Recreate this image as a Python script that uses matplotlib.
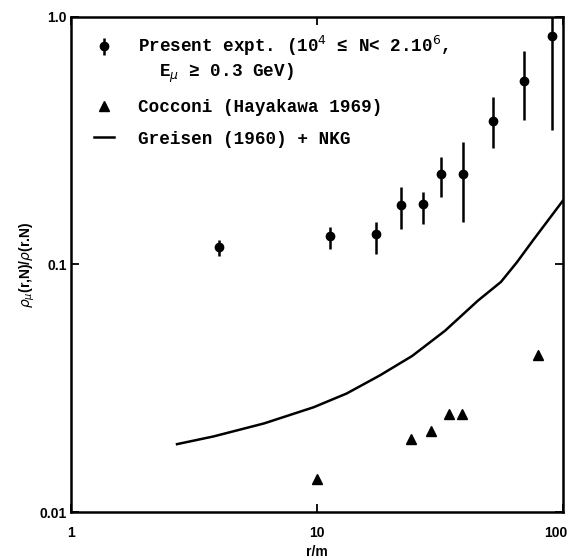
import matplotlib
matplotlib.use("Agg")
import matplotlib.pyplot as plt
from matplotlib.transforms import ScaledTranslation
from matplotlib.legend_handler import HandlerErrorbar
import numpy as np

# ---- data ----
r_expt = [4.0, 11.3, 17.4, 22.0, 27.0, 32.1, 39.4, 51.9, 69.5, 90.2]
ratio_expt = [0.118, 0.130, 0.133, 0.174, 0.175, 0.231, 0.231, 0.381, 0.553, 0.839]
expt_low = [0.108, 0.116, 0.110, 0.139, 0.146, 0.187, 0.149, 0.295, 0.384, 0.348]
expt_high = [0.126, 0.142, 0.149, 0.206, 0.197, 0.271, 0.313, 0.475, 0.731, 1.2]

r_cocconi = [10.0, 24.2, 29.0, 34.6, 38.8, 79.0]
ratio_cocconi = [0.0136, 0.0198, 0.0213, 0.0249, 0.0249, 0.043]

r_greisen = [2.7, 3.8, 6.1, 9.7, 13.2, 18.0, 24.4, 33.2, 45.2, 56, 65, 76, 100]
ratio_greisen = [0.0188, 0.0202, 0.0228, 0.0265, 0.0301, 0.0356, 0.0427, 0.054,
                 0.0715, 0.085, 0.102, 0.126, 0.181]

x_ticks = [1, 10, 100]
x_ticklabels = ["1", "10", "100"]
y_ticks = [0.01, 0.1, 1.0]
y_ticklabels = ["0.01", "0.1", "1.0"]

legend_labels = ["Present expt. (10$^4$ \u2264 N< 2.10$^6$,\n  E$_\\mu$ \u2265 0.3 GeV)",
                 "Cocconi (Hayakawa 1969)",
                 "Greisen (1960) + NKG"]


class HandlerErrorbarFirstLine(HandlerErrorbar):
    """Place the errorbar handle level with the first line of a two-line label."""
    shift = 9.6  # points

    def create_artists(self, legend, orig_handle, xdescent, ydescent, width,
                       height, fontsize, trans):
        return super().create_artists(legend, orig_handle, xdescent,
                                      ydescent - 2 * self.shift, width, height,
                                      fontsize, trans)


# ---- figure ----
fig = plt.figure(figsize=(5.72, 5.60), dpi=100)
ax = fig.add_axes([0.124, 0.0857, 0.860, 0.884])

ratio_expt_a = np.array(ratio_expt)
yerr = [ratio_expt_a - np.array(expt_low), np.array(expt_high) - ratio_expt_a]
eb = ax.errorbar(r_expt, ratio_expt, yerr=yerr, fmt='o', color='black',
                 markersize=6, elinewidth=1.8, capsize=0)
tri, = ax.plot(r_cocconi, ratio_cocconi, '^', color='black', markersize=7,
               linestyle='none')
gl, = ax.plot(r_greisen, ratio_greisen, '-', color='black', linewidth=1.8,
              solid_joinstyle='round')

ax.set_xscale('log')
ax.set_yscale('log')
ax.set_xlim(1, 100)
ax.set_ylim(0.01, 1.0)

ax.xaxis.set_major_locator(matplotlib.ticker.FixedLocator(x_ticks))
ax.yaxis.set_major_locator(matplotlib.ticker.FixedLocator(y_ticks))
ax.xaxis.set_minor_locator(matplotlib.ticker.NullLocator())
ax.yaxis.set_minor_locator(matplotlib.ticker.NullLocator())
ax.set_xticklabels(x_ticklabels, fontfamily='Liberation Sans', fontweight='bold', fontsize=10)
ax.set_yticklabels(y_ticklabels, fontfamily='Liberation Sans', fontweight='bold', fontsize=10)
ax.tick_params(axis='both', which='major', direction='in', length=6, width=1.3,
               top=True, right=True)
ax.tick_params(axis='x', pad=10)
ax.tick_params(axis='y', pad=3)

last = ax.get_xticklabels()[-1]
last.set_horizontalalignment('right')
last.set_transform(last.get_transform() + ScaledTranslation(5 / 100, 0, fig.dpi_scale_trans))

for s in ax.spines.values():
    s.set_linewidth(1.8)

ax.set_xlabel("r/m", fontfamily='Liberation Sans', fontweight='bold', fontsize=10, labelpad=4)
ax.set_ylabel(r"$\rho_\mu$(r,N)/$\rho$(r.N)", fontfamily='Liberation Sans',
              fontweight='bold', fontsize=10, labelpad=2)

leg = ax.legend([eb, tri, gl], legend_labels, loc='upper left',
                bbox_to_anchor=(0.047, 0.965), frameon=False, borderpad=0,
                borderaxespad=0, handlelength=1.15, handletextpad=1.35,
                labelspacing=0.82,
                handler_map={type(eb): HandlerErrorbarFirstLine()},
                prop={'family': ['Liberation Mono', 'DejaVu Sans Mono'],
                      'size': 12.7, 'weight': 'bold'})

fig.savefig("out.png", dpi=100)
